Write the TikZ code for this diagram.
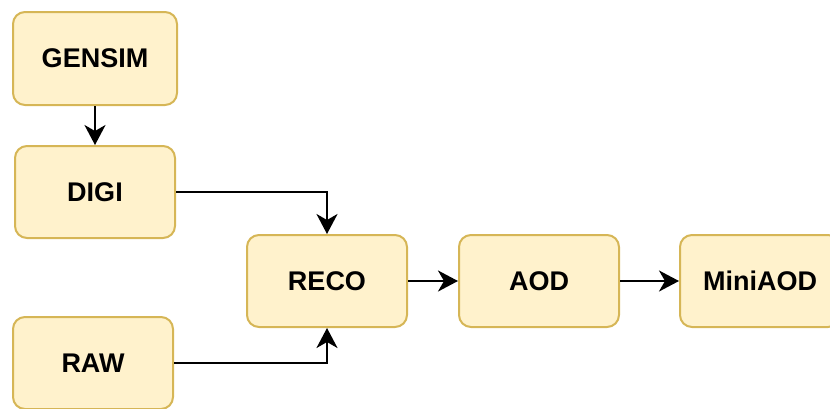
\documentclass[tikz,border=0pt]{standalone}
\usepackage{fontspec}
\setmainfont{Liberation Sans}
\usetikzlibrary{arrows.meta}
\definecolor{boxfill}{HTML}{FFF2CC}
\definecolor{boxdraw}{HTML}{D6B656}
\tikzset{
  procbox/.style={draw=boxdraw, fill=boxfill, line width=2pt, rounded corners=12pt,
    minimum width=160pt, minimum height=92pt, inner sep=0pt,
    font=\fontsize{27}{32}\selectfont\bfseries},
  flow/.style={line width=2.4pt, -{Stealth[length=20pt,width=21pt,inset=6pt]}}
}
\begin{document}
\begin{tikzpicture}[x=1pt,y=-1pt]
\useasboundingbox (0,0) rectangle (830,408);
\clip (0,0) rectangle (830,408);
\node[procbox, minimum width=164pt, minimum height=93pt] (gensim) at (95,58.5) {GENSIM};
\node[procbox] (digi) at (95,192) {DIGI};
\node[procbox] (raw) at (93,363) {RAW};
\node[procbox] (reco) at (327,281) {RECO};
\node[procbox] (aod) at (539,281) {AOD};
\node[procbox] (mini) at (760,281) {MiniAOD};
\draw[flow] (gensim) -- (digi);
\draw[flow] (digi.east) -| (reco.north);
\draw[flow] (raw.east) -| (reco.south);
\draw[flow] (reco) -- (aod);
\draw[flow] (aod) -- (mini);
\end{tikzpicture}
\end{document}
